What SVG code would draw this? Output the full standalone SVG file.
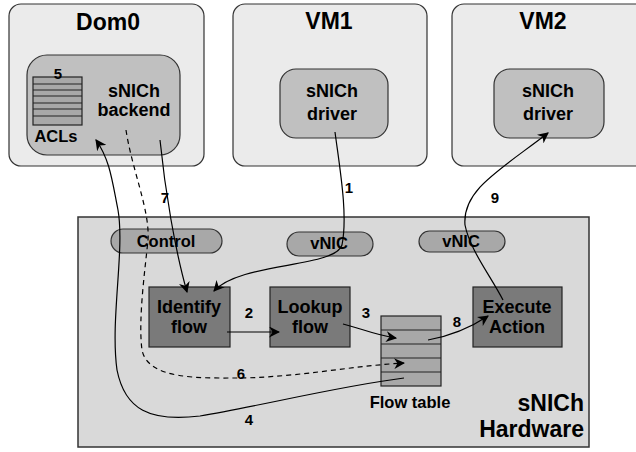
<svg xmlns="http://www.w3.org/2000/svg" width="636" height="452" viewBox="0 0 636 452">
<defs>
<marker id="ah" viewBox="0 0 10 10" refX="9" refY="5" markerWidth="11" markerHeight="11" markerUnits="userSpaceOnUse" orient="auto">
<path d="M0,0 L10,5 L0,10 L3,5 Z" fill="#000"/>
</marker>
</defs>
<style>
text{font-family:"Liberation Sans",Arial,sans-serif;font-weight:bold;fill:#000}
.vm{fill:#ebebeb;stroke:#333;stroke-width:1.2}
.inner{fill:#c0c0c0;stroke:#333;stroke-width:1.2}
.hw{fill:#d9d9d9;stroke:#333;stroke-width:1.5}
.pill{fill:#a8a8a8;stroke:#333;stroke-width:1.2}
.dark{fill:#7a7a7a;stroke:#222;stroke-width:1.2}
.tbl{fill:#a8a8a8;stroke:#222;stroke-width:1.2}
.ln{stroke:#222;stroke-width:1.2}
.t23{font-size:23px}
.t18{font-size:18px}
.t16{font-size:16.5px}
.t15{font-size:15px}
.c{text-anchor:middle}
.cn{fill:none;stroke:#000;stroke-width:1.2}
.dash{stroke-dasharray:5,4}
</style>

<g id="dom0">
<rect class="vm" x="9" y="4" width="195" height="162" rx="12"/>
<text class="t23 c" x="108" y="30">Dom0</text>
</g>
<g id="backend">
<rect class="inner" x="27" y="55" width="153" height="100" rx="20"/>
<text class="t18 c" x="134" y="97">sNICh</text>
<text class="t18 c" x="134" y="116">backend</text>
</g>
<g id="acls">
<rect class="tbl" x="33" y="77" width="49" height="48"/>
<line class="ln" x1="33" y1="84" x2="82" y2="84"/>
<line class="ln" x1="33" y1="90" x2="82" y2="90"/>
<line class="ln" x1="33" y1="96" x2="82" y2="96"/>
<line class="ln" x1="33" y1="103" x2="82" y2="103"/>
<line class="ln" x1="33" y1="109" x2="82" y2="109"/>
<line class="ln" x1="33" y1="116" x2="82" y2="116"/>
<text class="t15 c" x="58" y="79">5</text>
<text class="t16 c" x="56" y="142">ACLs</text>
</g>

<g id="vm1">
<rect class="vm" x="233" y="4" width="194" height="162" rx="12"/>
<text class="t23 c" x="329" y="29">VM1</text>
</g>
<g id="driver1">
<rect class="inner" x="280" y="69" width="108" height="69" rx="16"/>
<text class="t18 c" x="332" y="97">sNICh</text>
<text class="t18 c" x="332" y="120">driver</text>
</g>

<g id="vm2">
<rect class="vm" x="452" y="4" width="200" height="162" rx="12"/>
<text class="t23 c" x="543" y="29">VM2</text>
</g>
<g id="driver2">
<rect class="inner" x="494" y="69" width="110" height="69" rx="16"/>
<text class="t18 c" x="548" y="97">sNICh</text>
<text class="t18 c" x="548" y="120">driver</text>
</g>

<g id="hardware">
<rect class="hw" x="78" y="217" width="511" height="230"/>
<text class="t23" x="584" y="411" text-anchor="end">sNICh</text>
<text class="t23" x="584" y="437" text-anchor="end">Hardware</text>
</g>
<g id="control">
<rect class="pill" x="111" y="229" width="111" height="24" rx="12"/>
<text class="t16 c" x="166" y="247">Control</text>
</g>
<g id="vnic1">
<rect class="pill" x="287" y="232" width="86" height="24" rx="12"/>
<text class="t16 c" x="329" y="249">vNIC</text>
</g>
<g id="vnic2">
<rect class="pill" x="419" y="231" width="86" height="21" rx="10.5"/>
<text class="t16 c" x="461" y="247">vNIC</text>
</g>
<g id="identify">
<rect class="dark" x="149" y="287" width="81" height="60"/>
<text class="t18 c" x="189" y="313">Identify</text>
<text class="t18 c" x="189" y="333">flow</text>
</g>
<g id="lookup">
<rect class="dark" x="270" y="287" width="80" height="60"/>
<text class="t18 c" x="310" y="313">Lookup</text>
<text class="t18 c" x="310" y="333">flow</text>
</g>
<g id="execute">
<rect class="dark" x="473" y="287" width="89" height="60"/>
<text class="t18 c" x="517" y="313">Execute</text>
<text class="t18 c" x="517" y="333">Action</text>
</g>
<g id="flowtable">
<rect class="tbl" x="381" y="316" width="60" height="70"/>
<line class="ln" x1="381" y1="330" x2="441" y2="330"/>
<line class="ln" x1="381" y1="344" x2="441" y2="344"/>
<line class="ln" x1="381" y1="358" x2="441" y2="358"/>
<line class="ln" x1="381" y1="372" x2="441" y2="372"/>
<text class="t16 c" x="410" y="408">Flow table</text>
</g>

<g id="connectors">
<path class="cn" marker-end="url(#ah)" d="M335,132 C340,170 348,215 342,245 C335,268 240,262 214,291"/>
<path class="cn" marker-end="url(#ah)" d="M160,140 C165,190 175,250 187,292"/>
<path class="cn dash" marker-end="url(#ah)" d="M126,130 C132,170 150,210 148,240 C145,270 138,320 142,350 C148,380 200,378 240,378 C300,377 350,366 404,363"/>
<path class="cn" marker-end="url(#ah)" d="M404,378 C340,386 260,406 200,416 C150,422 125,410 117,370 C110,320 125,250 118,210 C112,180 110,160 96,140"/>
<path class="cn" marker-end="url(#ah)" d="M343,324 C360,328 375,335 396,338"/>
<path class="cn" marker-end="url(#ah)" d="M227,332 L279,332"/>
<path class="cn" marker-end="url(#ah)" d="M428,340 C450,336 470,328 488,316"/>
<path class="cn" marker-end="url(#ah)" d="M503,300 C490,275 470,250 465,225 C462,190 500,170 548,133"/>
<text class="t15 c" x="349" y="193">1</text>
<text class="t15 c" x="495" y="203">9</text>
<text class="t15 c" x="165" y="203">7</text>
<text class="t15 c" x="249" y="318">2</text>
<text class="t15 c" x="366" y="318">3</text>
<text class="t15 c" x="457" y="327">8</text>
<text class="t15 c" x="241" y="379">6</text>
<text class="t15 c" x="249" y="425">4</text>
</g>
</svg>
